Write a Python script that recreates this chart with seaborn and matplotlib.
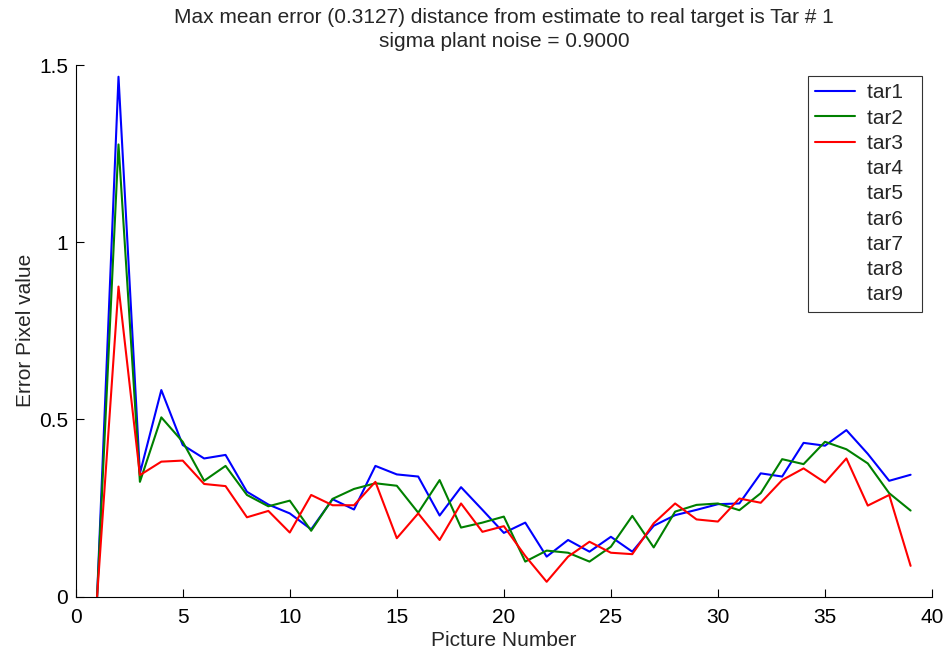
import numpy as np
import pandas as pd
import matplotlib
matplotlib.use("Agg")
import matplotlib.pyplot as plt
from matplotlib.lines import Line2D
import seaborn as sns

# Per-picture error (pixels) for each tracked target
picture = list(range(1, 40))
tar1 = [0.000, 1.467, 0.348, 0.583, 0.428, 0.390, 0.400, 0.296, 0.260, 0.235,
        0.190, 0.275, 0.246, 0.369, 0.345, 0.339, 0.229, 0.309, 0.245, 0.180,
        0.209, 0.113, 0.160, 0.127, 0.169, 0.127, 0.200, 0.230, 0.245, 0.261,
        0.263, 0.348, 0.339, 0.434, 0.426, 0.470, 0.403, 0.327, 0.344]
tar2 = [0.000, 1.276, 0.324, 0.506, 0.437, 0.327, 0.369, 0.287, 0.255, 0.271,
        0.186, 0.276, 0.304, 0.320, 0.313, 0.237, 0.329, 0.195, 0.209, 0.226,
        0.099, 0.130, 0.124, 0.099, 0.141, 0.228, 0.139, 0.240, 0.259, 0.263,
        0.244, 0.292, 0.388, 0.374, 0.437, 0.416, 0.376, 0.292, 0.243]
tar3 = [0.000, 0.875, 0.343, 0.381, 0.384, 0.318, 0.312, 0.224, 0.242, 0.181,
        0.287, 0.258, 0.258, 0.324, 0.165, 0.235, 0.160, 0.263, 0.183, 0.199,
        0.115, 0.042, 0.113, 0.155, 0.124, 0.120, 0.207, 0.263, 0.218, 0.212,
        0.277, 0.265, 0.329, 0.362, 0.322, 0.390, 0.257, 0.287, 0.087]
legend_labels = ["tar1", "tar2", "tar3", "tar4", "tar5", "tar6", "tar7", "tar8", "tar9"]
x_ticks = [0, 5, 10, 15, 20, 25, 30, 35, 40]
y_ticks = [0, 0.5, 1, 1.5]
y_tick_labels = ["0", "0.5", "1", "1.5"]

df = pd.DataFrame({
    "Picture Number": picture * 3,
    "Error": tar1 + tar2 + tar3,
    "target": ["tar1"] * len(tar1) + ["tar2"] * len(tar2) + ["tar3"] * len(tar3),
})

sns.set_theme(style="white")
plt.rcParams["font.family"] = ["Liberation Sans", "DejaVu Sans"]

FS = 15

fig = plt.figure(figsize=(9.52, 6.57), dpi=100)
ax = fig.add_axes([0.0795, 0.0918, 0.8995, 0.8092])

palette = {"tar1": (0, 0, 1), "tar2": (0, 0.5, 0), "tar3": (1, 0, 0)}
sns.lineplot(data=df, x="Picture Number", y="Error", hue="target",
             palette=palette, linewidth=1.5, ax=ax, legend=False)

ax.set_xlim(0, 40)
ax.set_ylim(0, 1.5)
ax.set_xticks(x_ticks)
ax.set_xticklabels([str(t) for t in x_ticks])
ax.set_yticks(y_ticks)
ax.set_yticklabels(y_tick_labels)
ax.tick_params(direction="in", length=6, width=0.8, colors="black",
               labelsize=FS, bottom=True, left=True)
ax.tick_params(axis="x", pad=8)
ax.tick_params(axis="y", pad=5.5)

for side in ["top", "right"]:
    ax.spines[side].set_visible(False)
for side in ["left", "bottom"]:
    ax.spines[side].set_color("black")
    ax.spines[side].set_linewidth(0.8)

ax.set_xlabel("Picture Number", fontsize=FS, labelpad=3)
ax.set_ylabel("Error Pixel value", fontsize=FS, labelpad=3)
ax.set_title("Max mean error (0.3127) distance from estimate to real target is Tar # 1\n"
             "sigma plant noise = 0.9000", fontsize=FS, pad=13, linespacing=1.32)

colors = [palette["tar1"], palette["tar2"], palette["tar3"]] + [None] * 6
handles = []
for c in colors:
    if c is None:
        handles.append(Line2D([], [], linestyle="none"))
    else:
        handles.append(Line2D([], [], color=c, linewidth=1.5))
leg = ax.legend(handles, [lab + "  " for lab in legend_labels], loc="upper right",
                bbox_to_anchor=(0.9885, 0.979), borderaxespad=0, fontsize=FS,
                frameon=True, fancybox=False, edgecolor="black",
                handlelength=1.92, labelspacing=0.3, borderpad=0.35,
                handletextpad=0.58)
leg.get_frame().set_linewidth(0.8)

fig.savefig("out.png", dpi=100, facecolor="white")
